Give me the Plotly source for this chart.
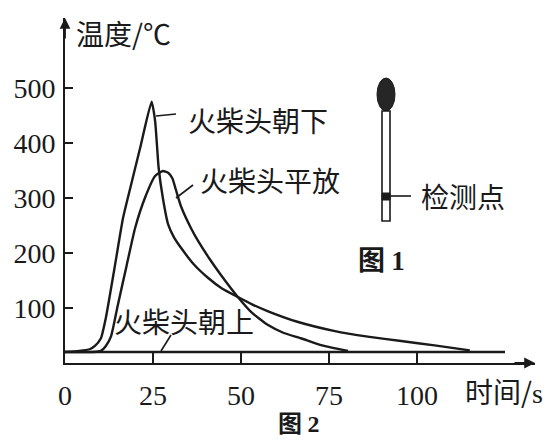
import plotly.graph_objects as go

# time (s) / temperature (°C)
t_down = [0, 4, 7, 8.5, 10.2, 11.6, 14, 16.5, 19, 21.5, 24.6, 25.6, 26.6, 27.8, 29.3,
          31, 33, 36.5, 40.6, 44.5, 49.1, 53, 57.7, 66, 76.7, 86, 95.5, 105, 115]
T_down = [20, 22, 25, 31, 45, 82, 170, 264, 330, 395, 475, 440, 355, 300, 252,
          228, 209, 180, 155, 136, 120, 107, 94, 75, 58, 48, 40, 32, 23]

t_flat = [0, 8, 10.2, 11.5, 13.1, 15, 17.5, 19.9, 22.7, 25.6, 27.8, 29.3, 30.5, 31.5,
          33, 35.8, 37.8, 41, 44.3, 49.1, 53, 57.7, 62, 67, 73, 80.4]
T_flat = [20, 20, 22, 30, 49, 105, 177, 245, 300, 340, 349, 346, 336, 315,
          284, 245, 222, 190, 160, 120, 92, 69, 55, 45, 32, 22]

t_up = [0, 125]
T_up = [20, 20]

x_ticks = [0, 25, 50, 75, 100]
y_ticks = [100, 200, 300, 400, 500]

# pixel layout of the plot area
L, R, TOP, BOT = 57, 527, 10, 355
XPX, YPX = 3.52, 0.55
x_max = (R - L) / XPX
y_max = (BOT - TOP) / YPX


def pp(x, y):
    # pixel position -> paper coordinates
    return (x - L) / (R - L), (BOT - y) / (BOT - TOP)


ink = '#1a1a1a'
cjk = 'Noto Sans CJK SC'
serif = 'Liberation Serif, Times New Roman, serif'

fig = go.Figure()
for tx, ty in [(t_up, T_up), (t_flat, T_flat), (t_down, T_down)]:
    fig.add_trace(go.Scatter(x=tx, y=ty, mode='lines',
                             line=dict(color=ink, width=2.4, shape='spline', smoothing=0.5),
                             showlegend=False, hoverinfo='skip'))

shapes = []


def seg(p, q, w=1.6):
    x0, y0 = pp(*p)
    x1, y1 = pp(*q)
    shapes.append(dict(type='line', xref='paper', yref='paper', x0=x0, y0=y0, x1=x1, y1=y1,
                       line=dict(color=ink, width=w)))


seg((148, 108), (168, 106))
seg((168, 190), (185, 177))
seg((163, 327), (153, 343))
seg((382, 188), (403, 188))

# match stick (图 1)
hx0, hy0 = pp(369, 103)
hx1, hy1 = pp(387, 70)
shapes.append(dict(type='circle', xref='paper', yref='paper', x0=hx0, y0=hy0, x1=hx1, y1=hy1,
                   fillcolor='#262626', line=dict(color=ink, width=1)))
sx0, sy0 = pp(374, 213)
sx1, sy1 = pp(382, 103)
shapes.append(dict(type='rect', xref='paper', yref='paper', x0=sx0, y0=sy0, x1=sx1, y1=sy1,
                   fillcolor='white', line=dict(color=ink, width=1.6)))
bx0, by0 = pp(374, 192)
bx1, by1 = pp(382, 185)
shapes.append(dict(type='rect', xref='paper', yref='paper', x0=bx0, y0=by0, x1=bx1, y1=by1,
                   fillcolor=ink, line=dict(color=ink, width=1)))

annotations = []


def label(text, x, y, size=28, anchor='left', font=cjk):
    ax_, ay_ = pp(x, y)
    annotations.append(dict(xref='paper', yref='paper', x=ax_, y=ay_, text=text,
                            showarrow=False, xanchor=anchor, yanchor='middle',
                            font=dict(family=font, size=size, color=ink)))


num = '<span style="font-family:Liberation Serif">%s</span>'
label('火柴头朝下', 178, 112)
label('火柴头平放', 190, 172)
label('火柴头朝上', 104, 313)
label('检测点', 411, 188)
label('温度/℃', 66, 25)
label('时间/' + num % 's', 455, 383)
label('<b>图 ' + num % '1' + '</b>', 373, 250, size=27, anchor='center')
label('<b>图 ' + num % '2' + '</b>', 290, 413, size=24, anchor='center')

# axis arrows
annotations.append(dict(x=x_max, y=0, ax=-22, ay=0, text='', showarrow=True,
                        arrowhead=2, arrowsize=1.2, arrowwidth=1.8, arrowcolor=ink))
annotations.append(dict(x=0, y=y_max, ax=0, ay=22, text='', showarrow=True,
                        arrowhead=2, arrowsize=1.2, arrowwidth=1.8, arrowcolor=ink))

fig.update_layout(
    width=557, height=440,
    margin=dict(l=L, r=557 - R, t=TOP, b=440 - BOT, autoexpand=False),
    plot_bgcolor='white', paper_bgcolor='white',
    shapes=shapes, annotations=annotations,
    showlegend=False,
)
fig.update_xaxes(range=[0, x_max], tickvals=x_ticks, ticks='inside', ticklen=10, tickwidth=1.6,
                 tickcolor=ink, showline=True, linecolor=ink, linewidth=2, showgrid=False,
                 zeroline=False, tickfont=dict(family=serif, size=28, color=ink),
                 ticklabelstandoff=6, automargin=False)
fig.update_yaxes(range=[0, y_max], tickvals=y_ticks, ticks='inside', ticklen=8, tickwidth=1.6,
                 tickcolor=ink, showline=True, linecolor=ink, linewidth=2, showgrid=False,
                 zeroline=False, tickfont=dict(family=serif, size=28, color=ink),
                 ticklabelstandoff=2, automargin=False)

fig.write_html("out.html")
